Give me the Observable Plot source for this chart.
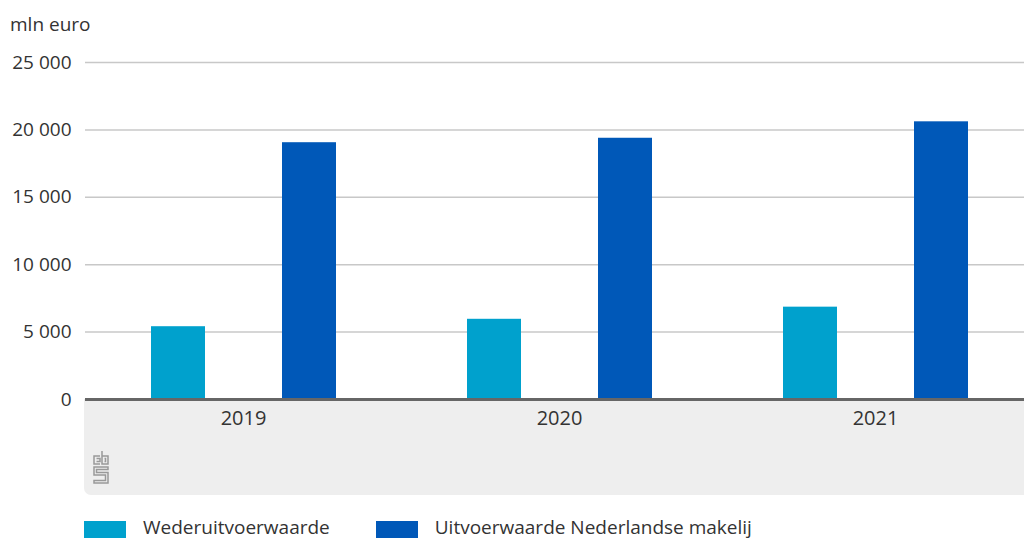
<!DOCTYPE html>
<html>
<head>
<meta charset="utf-8">
<script src="https://cdn.jsdelivr.net/npm/d3@7"></script>
<script src="https://cdn.jsdelivr.net/npm/@observablehq/plot@0.6"></script>
<style>
  html, body { margin: 0; padding: 0; background: #fff; overflow: hidden; width: 1024px; height: 538px; }
  body { position: relative; font-family: "Open Sans", sans-serif; color: #333; }
  #unit { position: absolute; left: 10px; top: 11px; font-size: 19px; color: #333; }
  #band { position: absolute; left: 84px; top: 399px; width: 950px; height: 96px; background: #eeeeee; border-bottom-left-radius: 7px; }
  #logo { position: absolute; left: 9px; top: 51px; }
  #chart { position: absolute; left: 0; top: 0; width: 1034px; }
  #legend { position: absolute; left: 84px; top: 514px; display: flex; font-size: 19px; line-height: 26px; color: #333; }
  .item { display: flex; align-items: flex-start; margin-right: 46px; }
  .sw { width: 42px; height: 18px; margin-right: 17px; margin-top: 7px; }
</style>
</head>
<body>
<div id="band">
  <svg id="logo" width="16" height="34" viewBox="0 0 16 34" fill="none" stroke="#999" stroke-width="1.5">
    <path d="M7 6 H1 V14 H7 M3.5 8.5 H7 V11.5 H3.5"/>
    <path d="M9 1 V14 H15 V6 H9 M11.5 8.5 H12.5 V11.5 H11.5"/>
    <path d="M15 17 H1 V25 H12.5 V30.5 H1 V33 H15 V22.5 H3.5 V19.5 H15 Z"/>
  </svg>
</div>
<div id="unit">mln euro</div>
<div id="chart"></div>
<div id="legend"></div>
<script>
const years = ["2019", "2020", "2021"];
const series = ["Wederuitvoerwaarde", "Uitvoerwaarde Nederlandse makelij"];
const wederuitvoer = [5400, 5950, 6850];
const uitvoer = [19050, 19380, 20600];
const colors = ["#00A1CD", "#0058B8"];
const yTicks = [0, 5000, 10000, 15000, 20000, 25000];

const data = [];
years.forEach((y, i) => {
  data.push({year: y, series: series[0], value: wederuitvoer[i]});
  data.push({year: y, series: series[1], value: uitvoer[i]});
});

const nl = d3.formatLocale({decimal: ",", thousands: "\u2009", grouping: [3], currency: ["", ""]});
const fmt = v => nl.format(",")(v).replace("\u2009", " ");

const chart = Plot.plot({
  width: 1034,
  height: 500,
  marginLeft: 84,
  marginRight: 0,
  marginTop: 62,
  marginBottom: 101,
  style: {fontFamily: "Open Sans, sans-serif", fontSize: "19px", color: "#333", background: "transparent", overflow: "visible", maxWidth: "none"},
  fx: {domain: years, padding: 0, label: null},
  x: {domain: series, axis: null, paddingInner: 0.59, paddingOuter: 0.495},
  y: {domain: [0, 25000], ticks: yTicks, label: null, tickFormat: fmt, tickSize: 0, tickPadding: 14},
  color: {domain: series, range: colors},
  marks: [
    Plot.gridY(yTicks, {stroke: "#c8c8c8", strokeOpacity: 1, strokeWidth: 1.5}),
    Plot.axisY(yTicks, {tickSize: 0, tickPadding: 14, tickFormat: fmt, label: null, fontSize: 19}),
    Plot.axisFx({anchor: "bottom", tickSize: 0, tickPadding: 11, label: null, fontSize: 20}),
    Plot.barY(data, {fx: "year", x: "series", y: "value", fill: "series"}),
    Plot.ruleY([0], {stroke: "#666", strokeWidth: 3})
  ]
});
chart.style.maxWidth = "none";
document.getElementById("chart").appendChild(chart);

const legend = document.getElementById("legend");
series.forEach((s, i) => {
  const item = document.createElement("div");
  item.className = "item";
  const sw = document.createElement("div");
  sw.className = "sw";
  sw.style.background = colors[i];
  const t = document.createElement("span");
  t.textContent = s;
  item.appendChild(sw);
  item.appendChild(t);
  legend.appendChild(item);
});
</script>
</body>
</html>
